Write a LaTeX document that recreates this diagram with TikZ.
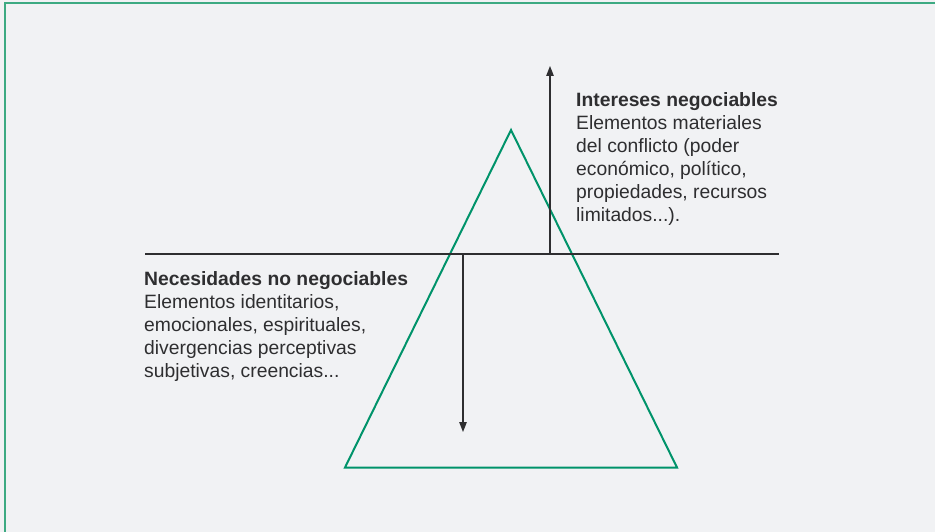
\documentclass[tikz,border=0pt]{standalone}
\usepackage{fontspec}
\setmainfont{Liberation Sans}
\usetikzlibrary{arrows.meta}
\definecolor{bgc}{HTML}{F1F2F4}
\definecolor{framec}{HTML}{3DAA82}
\definecolor{trig}{HTML}{00936A}
\definecolor{ink}{HTML}{2E2E30}
\tikzset{
  txt/.style={anchor=north west, inner sep=0pt, align=left, text=ink,
    font=\fontsize{19.3}{23}\selectfont},
  arr/.style={draw=ink, line width=1.3pt, -{Triangle[length=10pt,width=7.5pt]}},
  tri/.style={draw=trig, line width=2pt, line join=miter},
}
\begin{document}
\begin{tikzpicture}[x=1pt,y=-1pt]
\fill[bgc] (0,0) rectangle (935,532);
\useasboundingbox (0,0) rectangle (935,532);
\draw[framec, line width=2pt] (5,532) -- (5,2.8) -- (935,2.8);
% triangle
\coordinate (apex) at (511,130);
\coordinate (bl) at (345,467.5);
\coordinate (br) at (677,467.5);
\draw[tri] (apex) -- (bl) -- (br) -- cycle;
% horizontal line
\coordinate (hl) at (145,254);
\coordinate (hr) at (779,254);
\draw[ink, line width=2pt] (hl) -- (hr);
% arrows
\coordinate (ua) at (550,254);
\coordinate (ub) at (550,66);
\coordinate (da) at (463,254);
\coordinate (db) at (463,432);
\draw[arr] (ua) -- (ub);
\draw[arr] (da) -- (db);
% texts
\node[txt] (inter) at (576,92) {\textbf{Intereses negociables}\\Elementos materiales\\del conflicto (poder\\económico, político,\\propiedades, recursos\\limitados...).};
\node[txt] (nec) at (144,271) {\textbf{Necesidades no negociables}\\Elementos identitarios,\\emocionales, espirituales,\\divergencias perceptivas\\subjetivas, creencias...};
\end{tikzpicture}
\end{document}
